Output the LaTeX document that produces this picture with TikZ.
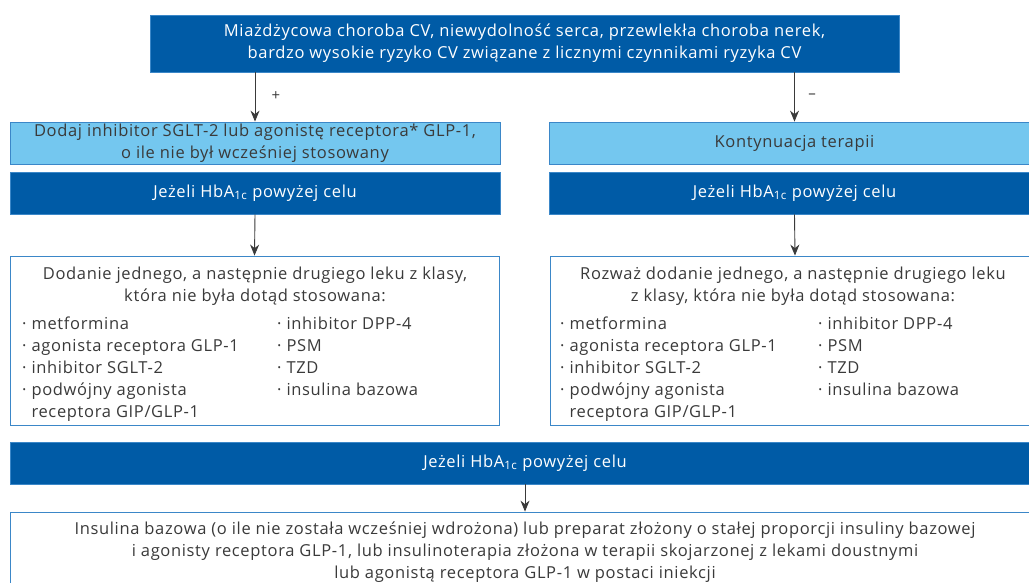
\documentclass[tikz,border=0pt]{standalone}
\usepackage{fontspec}
\setmainfont[LetterSpace=4]{Open Sans}
\usetikzlibrary{arrows.meta}
\definecolor{dblue}{HTML}{005BA6}
\definecolor{lblue}{HTML}{74C7EF}
\definecolor{bord}{HTML}{3B87C8}
\definecolor{txt}{HTML}{3A3A3A}
\definecolor{arrc}{HTML}{3A3A3A}
\tikzset{
  darkbox/.style={fill=dblue, draw=bord, line width=0.8pt, inner sep=0pt, text=white, align=center,
    font=\fontsize{16.5}{22}\selectfont},
  lightbox/.style={fill=lblue, draw=bord, line width=0.8pt, inner sep=0pt, text=txt, align=center,
    font=\fontsize{16.5}{22}\selectfont},
  whitebox/.style={fill=white, draw=bord, line width=0.8pt, inner sep=0pt},
  txtline/.style={text=txt, inner sep=0pt, font=\fontsize{16.5}{22}\selectfont},
  arr/.style={draw=arrc, line width=0.9pt, -{Stealth[length=11pt,width=9pt]}},
  sign/.style={text=txt, inner sep=0pt, font=\fontsize{15}{15}\selectfont}
}
\newcommand{\hba}{HbA\textsubscript{1c}}
\begin{document}
\begin{tikzpicture}[x=1pt,y=-1pt]
\useasboundingbox (0,0) rectangle (1029,583);
\clip (0,0) rectangle (1029,583);
% top
\node[darkbox, minimum width=749, minimum height=57] (top) at (524.5,43.5)
  {Miażdżycowa choroba CV, niewydolność serca, przewlekła choroba nerek,\\bardzo wysokie ryzyko CV związane z licznymi czynnikami ryzyka CV};
% light boxes
\node[lightbox, minimum width=490, minimum height=42] (lt) at (255,143)
  {Dodaj inhibitor SGLT-2 lub agonistę receptora* GLP-1,\\o ile nie był wcześniej stosowany};
\node[lightbox, minimum width=491, minimum height=42] (rt) at (794.5,143)
  {Kontynuacja terapii};
% dark boxes
\node[darkbox, minimum width=490, minimum height=42] (ld) at (255,193) {Jeżeli \hba{} powyżej celu};
\node[darkbox, minimum width=491, minimum height=42] (rd) at (794.5,193) {Jeżeli \hba{} powyżej celu};
% white boxes
\node[whitebox, minimum width=489, minimum height=169] (lw) at (254.5,340.5) {};
\node[whitebox, minimum width=490, minimum height=169] (rw) at (795,340.5) {};
% arrows
\draw[arr] (top.south -| lt.north) -- (lt.north);
\draw[arr] (top.south -| rt.north) -- (rt.north);
\node[sign] (plus) at (276,96) {+};
\node[sign] (minus) at (812,96) {–};
\draw[arr] (ld.south) -- (lw.north);
\draw[arr] (rd.south) -- (rw.north);
% left white box text
\node[txtline, anchor=base] (lh1) at (255,279) {Dodanie jednego, a następnie drugiego leku z klasy,};
\node[txtline, anchor=base] (lh2) at (255,301) {która nie była dotąd stosowana:};
\node[txtline, anchor=base west] (la1) at (22,329) {· metformina};
\node[txtline, anchor=base west] (la2) at (22,351) {· agonista receptora GLP-1};
\node[txtline, anchor=base west] (la3) at (22,373) {· inhibitor SGLT-2};
\node[txtline, anchor=base west] (la4) at (22,395) {· podwójny agonista};
\node[txtline, anchor=base west] (la5) at (22,417) {\phantom{· }receptora GIP/GLP-1};
\node[txtline, anchor=base west] (lb1) at (277,329) {· inhibitor DPP-4};
\node[txtline, anchor=base west] (lb2) at (277,351) {· PSM};
\node[txtline, anchor=base west] (lb3) at (277,373) {· TZD};
\node[txtline, anchor=base west] (lb4) at (277,395) {· insulina bazowa};
% right white box text
\node[txtline, anchor=base] (rh1) at (793,279) {Rozważ dodanie jednego, a następnie drugiego leku};
\node[txtline, anchor=base] (rh2) at (793,301) {z klasy, która nie była dotąd stosowana:};
\node[txtline, anchor=base west] (ra1) at (560,329) {· metformina};
\node[txtline, anchor=base west] (ra2) at (560,351) {· agonista receptora GLP-1};
\node[txtline, anchor=base west] (ra3) at (560,373) {· inhibitor SGLT-2};
\node[txtline, anchor=base west] (ra4) at (560,395) {· podwójny agonista};
\node[txtline, anchor=base west] (ra5) at (560,417) {\phantom{· }receptora GIP/GLP-1};
\node[txtline, anchor=base west] (rb1) at (818,329) {· inhibitor DPP-4};
\node[txtline, anchor=base west] (rb2) at (818,351) {· PSM};
\node[txtline, anchor=base west] (rb3) at (818,373) {· TZD};
\node[txtline, anchor=base west] (rb4) at (818,395) {· insulina bazowa};
% bottom
\node[darkbox, minimum width=1030, minimum height=42] (bd) at (525,463) {Jeżeli \hba{} powyżej celu};
\node[whitebox, minimum width=1030, minimum height=90] (bw) at (525,557) {};
\draw[arr] (bd.south) -- (bw.north);
\node[txtline, anchor=base] (bt1) at (525,534) {Insulina bazowa (o ile nie została wcześniej wdrożona) lub preparat złożony o stałej proporcji insuliny bazowej};
\node[txtline, anchor=base] (bt2) at (525,556) {i agonisty receptora GLP-1, lub insulinoterapia złożona w terapii skojarzonej z lekami doustnymi};
\node[txtline, anchor=base] (bt3) at (525,578) {lub agonistą receptora GLP-1 w postaci iniekcji};
\end{tikzpicture}
\end{document}
